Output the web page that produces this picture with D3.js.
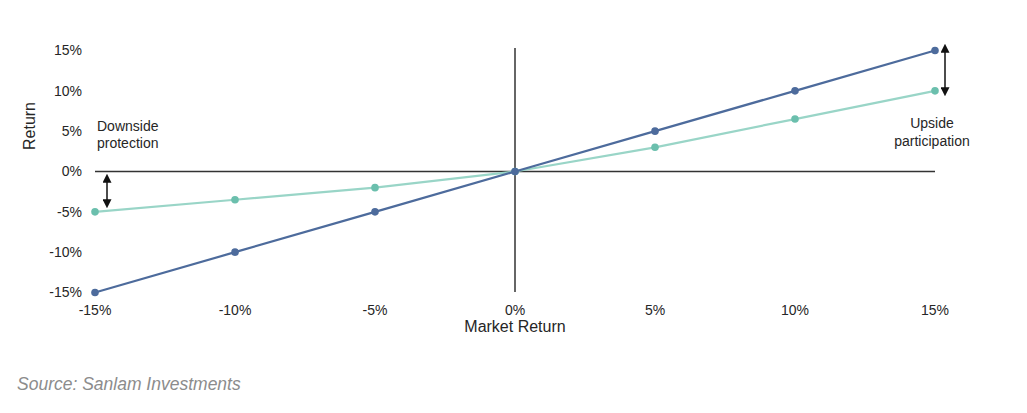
<!DOCTYPE html>
<html><head><meta charset="utf-8">
<script src="https://cdn.jsdelivr.net/npm/d3@7"></script>
<style>body{margin:0;background:#fff;} text{font-family:"Liberation Sans",Arial,sans-serif;}</style>
</head><body><svg id="c" width="1027" height="413"></svg>
<script>
const marketReturns = [-15, -10, -5, 0, 5, 10, 15];
const fullExposure = [-15, -10, -5, 0, 5, 10, 15];
const protectedFund = [-5, -3.5, -2, 0, 3, 6.5, 10];
const xTicks = [-15, -10, -5, 0, 5, 10, 15];
const yTicks = [-15, -10, -5, 0, 5, 10, 15];

const svg = d3.select("#c");
const x = d3.scaleLinear().domain([-15, 15]).range([95, 935]);
const y = d3.scaleLinear().domain([-15, 15]).range([292.5, 50.5]);
const fmt = d => d + "%";
const textCol = "#262626";

svg.append("g").selectAll("text").data(yTicks).join("text")
  .attr("x", 82).attr("y", d => y(d)).attr("dy", "0.35em")
  .attr("text-anchor", "end").attr("font-size", 14).attr("fill", textCol).text(fmt);
svg.append("g").selectAll("text").data(xTicks).join("text")
  .attr("x", d => x(d)).attr("y", 315)
  .attr("text-anchor", "middle").attr("font-size", 14).attr("fill", textCol).text(fmt);

svg.append("line").attr("x1", x(-15)).attr("x2", x(15)).attr("y1", y(0)).attr("y2", y(0))
  .attr("stroke", "#333").attr("stroke-width", 1.5);
svg.append("line").attr("x1", x(0)).attr("x2", x(0)).attr("y1", 48).attr("y2", 292)
  .attr("stroke", "#333").attr("stroke-width", 1.5);

svg.append("text").attr("x", x(0)).attr("y", 332).attr("text-anchor", "middle")
  .attr("font-size", 16).attr("fill", textCol).text("Market Return");
svg.append("text").attr("transform", "translate(35,126) rotate(-90)").attr("text-anchor", "middle")
  .attr("font-size", 16).attr("fill", textCol).text("Return");

const line = d3.line().x((d, i) => x(marketReturns[i])).y(d => y(d));
function series(vals, lineCol, dotCol, w) {
  svg.append("path").datum(vals).attr("d", line).attr("fill", "none")
    .attr("stroke", lineCol).attr("stroke-width", w);
  svg.append("g").selectAll("circle").data(vals).join("circle")
    .attr("cx", (d, i) => x(marketReturns[i])).attr("cy", d => y(d)).attr("r", 3.8).attr("fill", dotCol);
}
series(protectedFund, "#99d5c7", "#6bbfad", 2.2);
series(fullExposure, "#4d6b9c", "#4d6b9c", 2.2);

const defs = svg.append("defs");
defs.append("marker").attr("id", "ah").attr("viewBox", "0 0 10 10").attr("refX", 3).attr("refY", 5)
  .attr("markerWidth", 6).attr("markerHeight", 6).attr("orient", "auto-start-reverse")
  .append("path").attr("d", "M0,0 L10,5 L0,10 z").attr("fill", "#111");
function arrow(xp, y1, y2) {
  svg.append("line").attr("x1", xp).attr("x2", xp).attr("y1", y1).attr("y2", y2)
    .attr("stroke", "#111").attr("stroke-width", 1.5)
    .attr("marker-start", "url(#ah)").attr("marker-end", "url(#ah)");
}
arrow(107, 180, 202);
arrow(945, 50, 90);

const ann1 = svg.append("text").attr("font-size", 14).attr("fill", textCol);
ann1.append("tspan").attr("x", 97).attr("y", 131).text("Downside");
ann1.append("tspan").attr("x", 97).attr("y", 148).text("protection");
const ann2 = svg.append("text").attr("font-size", 14).attr("fill", textCol).attr("text-anchor", "middle");
ann2.append("tspan").attr("x", 932).attr("y", 128).text("Upside");
ann2.append("tspan").attr("x", 932).attr("y", 146).text("participation");

svg.append("text").attr("x", 17).attr("y", 390).attr("font-size", 17.5).attr("font-style", "italic")
  .attr("fill", "#8c8c8c").text("Source: Sanlam Investments");
</script></body></html>
